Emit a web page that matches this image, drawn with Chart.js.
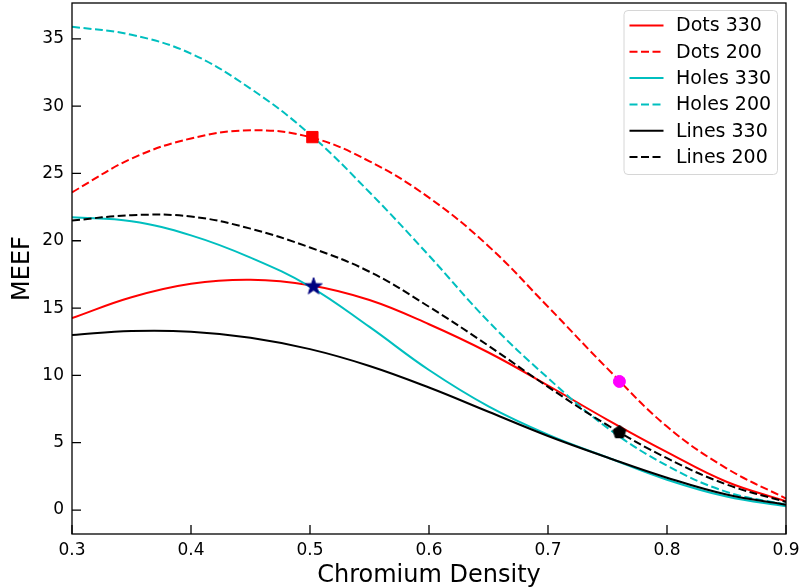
<!DOCTYPE html>
<html><head><meta charset="utf-8">
<script src="https://cdn.jsdelivr.net/npm/chart.js@4.4.0/dist/chart.umd.min.js"></script>
<style>html,body{margin:0;padding:0;background:#fff;overflow:hidden}</style>
</head><body>
<canvas id="c" width="801" height="587" style="display:block;width:801px;height:587px"></canvas>
<script>
// ---- data ----
const xValues  = [0.30, 0.35, 0.40, 0.45, 0.50, 0.55, 0.60, 0.65, 0.70, 0.75, 0.80, 0.85, 0.90];
const dots330  = [14.25, 15.8, 16.8, 17.1, 16.7, 15.6, 13.8, 11.7, 9.25, 6.7, 4.3, 2.1, 0.65];
const dots200  = [23.6, 26.1, 27.6, 28.2, 27.7, 25.9, 23.2, 19.6, 15.1, 10.5, 6.2, 3.1, 0.85];
const holes330 = [21.75, 21.45, 20.4, 18.75, 16.6, 13.6, 10.4, 7.7, 5.6, 3.9, 2.25, 1.0, 0.28];
const holes200 = [35.9, 35.3, 33.9, 31.3, 27.9, 23.6, 18.9, 14.0, 9.8, 6.1, 3.3, 1.35, 0.4];
const lines330 = [13.0, 13.3, 13.25, 12.8, 11.95, 10.7, 9.1, 7.3, 5.5, 3.9, 2.4, 1.15, 0.4];
const lines200 = [21.5, 21.9, 21.8, 20.9, 19.5, 17.7, 15.1, 12.2, 9.15, 6.3, 3.85, 1.9, 0.6];
const seriesLabels = ['Dots 330', 'Dots 200', 'Holes 330', 'Holes 200', 'Lines 330', 'Lines 200'];
const markerSquare   = {x: 0.502, y: 27.7};
const markerStar     = {x: 0.503, y: 16.6};
const markerCircle   = {x: 0.760, y: 9.55};
const markerPentagon = {x: 0.760, y: 5.78};
const xTicks = [0.3, 0.4, 0.5, 0.6, 0.7, 0.8, 0.9];
const yTicks = [0, 5, 10, 15, 20, 25, 30, 35];
const xRange = [0.3, 0.9];
const yRange = [-1.78, 37.66];
const xTitle = 'Chromium Density';
const yTitle = 'MEEF';

// ---- styling ----
const RED = '#ff0000', CYAN = '#00bfbf', BLACK = '#000000';
const FONT = "'DejaVu Sans', sans-serif";
const DASH = [8, 3.5];

function pts(ys) { return xValues.map((x, i) => ({x: x, y: ys[i]})); }

function polyCanvas(size, n, rOut, rIn, color, rot) {
  const c = document.createElement('canvas');
  c.width = size; c.height = size;
  const g = c.getContext('2d');
  g.beginPath();
  const cx = size / 2, cy = size / 2;
  const m = rIn ? n * 2 : n;
  for (let i = 0; i < m; i++) {
    const r = rIn ? (i % 2 === 0 ? rOut : rIn) : rOut;
    const a = -Math.PI / 2 + rot + i * 2 * Math.PI / m;
    const px = cx + r * Math.cos(a), py = cy + r * Math.sin(a);
    if (i === 0) g.moveTo(px, py); else g.lineTo(px, py);
  }
  g.closePath();
  g.fillStyle = color; g.fill();
  g.lineWidth = 1; g.strokeStyle = color; g.stroke();
  return c;
}
const starImg = polyCanvas(20, 5, 9, 3.6, '#000080', 0);
const pentImg = polyCanvas(16, 5, 6.8, 0, '#000000', 0);

function lineDs(label, ys, color, dashed, order) {
  return {
    label: label, data: pts(ys), showLine: true, borderColor: color, backgroundColor: color,
    borderWidth: 2, borderDash: dashed ? DASH : [], pointRadius: 0, pointHoverRadius: 0,
    tension: 0.4, order: order, inLegend: true, dashed: dashed
  };
}
function markDs(pt, style, radius, color) {
  return {
    label: '', data: [pt], showLine: false, pointStyle: style, pointRadius: radius,
    backgroundColor: color, borderColor: color, borderWidth: 1, order: 0, inLegend: false
  };
}

const datasets = [
  lineDs(seriesLabels[0], dots330, RED, false, 6),
  lineDs(seriesLabels[1], dots200, RED, true, 5),
  lineDs(seriesLabels[2], holes330, CYAN, false, 4),
  lineDs(seriesLabels[3], holes200, CYAN, true, 3),
  lineDs(seriesLabels[4], lines330, BLACK, false, 2),
  lineDs(seriesLabels[5], lines200, BLACK, true, 1),
  markDs(markerSquare, 'rect', 8, RED),
  markDs(markerStar, starImg, 10, '#000080'),
  markDs(markerCircle, 'circle', 6, '#ff00ff'),
  markDs(markerPentagon, pentImg, 8, BLACK)
];

const framePlugin = {
  id: 'frameAndLegend',
  afterDraw(chart) {
    const ctx = chart.ctx;
    const a = chart.chartArea;
    const sx = chart.scales.x, sy = chart.scales.y;
    ctx.save();
    // inward ticks
    ctx.strokeStyle = '#000'; ctx.lineWidth = 1.3;
    ctx.beginPath();
    sx.ticks.forEach(t => {
      const px = sx.getPixelForValue(t.value);
      ctx.moveTo(px, a.bottom); ctx.lineTo(px, a.bottom - 9);
    });
    sy.ticks.forEach(t => {
      const py = sy.getPixelForValue(t.value);
      ctx.moveTo(a.left, py); ctx.lineTo(a.left + 9, py);
    });
    ctx.stroke();
    // frame
    ctx.lineWidth = 1.3;
    ctx.strokeRect(a.left, a.top, a.right - a.left, a.bottom - a.top);
    // legend
    const items = chart.data.datasets.filter(d => d.inLegend);
    const bx = a.right - 162, by = a.top + 7.5, bw = 153.5, bh = 164, rr = 4;
    ctx.beginPath();
    ctx.moveTo(bx + rr, by);
    ctx.lineTo(bx + bw - rr, by); ctx.arcTo(bx + bw, by, bx + bw, by + rr, rr);
    ctx.lineTo(bx + bw, by + bh - rr); ctx.arcTo(bx + bw, by + bh, bx + bw - rr, by + bh, rr);
    ctx.lineTo(bx + rr, by + bh); ctx.arcTo(bx, by + bh, bx, by + bh - rr, rr);
    ctx.lineTo(bx, by + rr); ctx.arcTo(bx, by, bx + rr, by, rr);
    ctx.closePath();
    ctx.fillStyle = 'rgba(255,255,255,0.8)'; ctx.fill();
    ctx.strokeStyle = '#d6d6d6'; ctx.lineWidth = 1; ctx.stroke();
    ctx.font = '19px ' + FONT;
    ctx.textBaseline = 'middle'; ctx.textAlign = 'left';
    items.forEach((d, i) => {
      const cy = by + 15 + i * 26.3;
      ctx.beginPath();
      ctx.setLineDash(d.dashed ? DASH : []);
      ctx.strokeStyle = d.borderColor; ctx.lineWidth = 2;
      ctx.moveTo(bx + 5.5, cy); ctx.lineTo(bx + 39.5, cy);
      ctx.stroke();
      ctx.setLineDash([]);
      ctx.fillStyle = '#000';
      ctx.fillText(d.label, bx + 52, cy + 1);
    });
    ctx.restore();
  }
};

new Chart(document.getElementById('c'), {
  type: 'scatter',
  data: {datasets: datasets},
  options: {
    responsive: false, animation: false, devicePixelRatio: 1,
    layout: {autoPadding: false, padding: {left: 0, right: 15, top: 3, bottom: 0}},
    plugins: {legend: {display: false}, tooltip: {enabled: false}},
    scales: {
      x: {
        type: 'linear', min: xRange[0], max: xRange[1],
        afterBuildTicks: s => { s.ticks = xTicks.map(v => ({value: v})); },
        afterFit: s => { s.height = 53; s.paddingLeft = 0; s.paddingRight = 0; },
        grid: {display: false, drawTicks: false},
        border: {display: false},
        ticks: {color: '#000', font: {family: FONT, size: 17}, padding: 6,
                callback: v => v.toFixed(1)},
        title: {display: true, text: xTitle, color: '#000', font: {family: FONT, size: 24},
                padding: {top: 0, bottom: -3}}
      },
      y: {
        type: 'linear', min: yRange[0], max: yRange[1],
        afterBuildTicks: s => { s.ticks = yTicks.map(v => ({value: v})); },
        afterFit: s => { s.width = 72; s.paddingTop = 0; s.paddingBottom = 0; },
        grid: {display: false, drawTicks: false},
        border: {display: false},
        ticks: {color: '#000', font: {family: FONT, size: 17}, padding: 8,
                callback: v => String(v)},
        title: {display: true, text: yTitle, color: '#000', font: {family: FONT, size: 24},
                padding: {top: 8, bottom: 0}}
      }
    }
  },
  plugins: [framePlugin]
});
</script>
</body></html>
